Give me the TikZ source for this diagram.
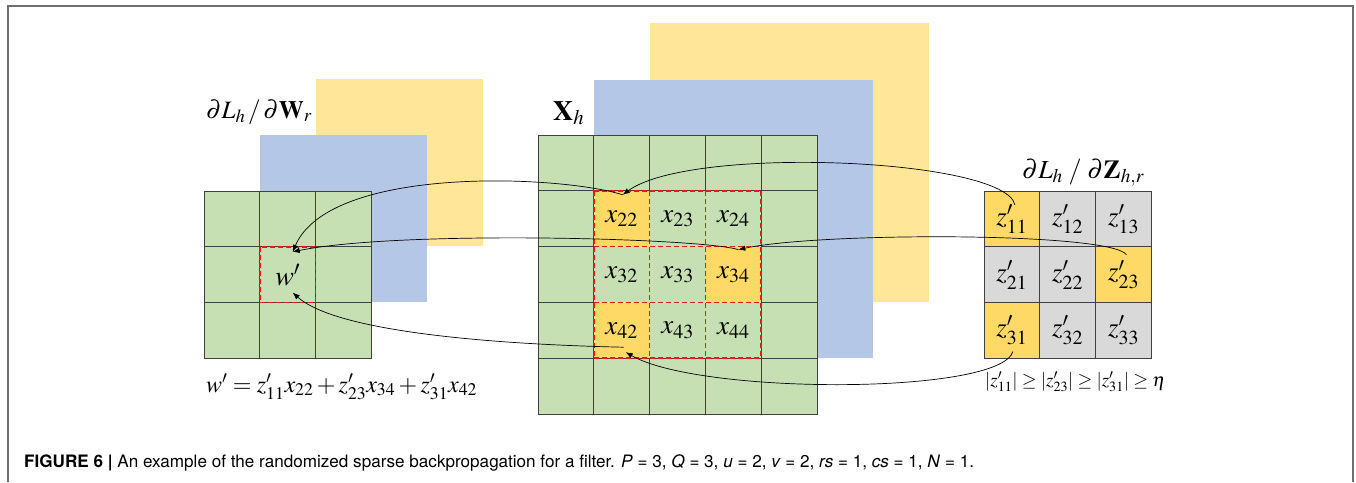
\documentclass[tikz,border=0pt]{standalone}
\usepackage{mathptmx}
\usepackage[no-math]{fontspec}
\setmainfont{Liberation Serif}
\newfontfamily\capfont{TeX Gyre Heros}
\usetikzlibrary{arrows.meta,calc}
\definecolor{cgreen}{RGB}{198,224,180}
\definecolor{cblue}{RGB}{180,199,231}
\definecolor{cyel}{RGB}{255,230,153}
\definecolor{cgold}{RGB}{255,217,102}
\definecolor{cgray}{RGB}{217,217,217}
\definecolor{cline}{RGB}{64,64,64}
\definecolor{cframe}{RGB}{110,110,110}
\definecolor{cred}{RGB}{240,20,20}
\tikzset{
  cell/.style={draw=cline, line width=0.8pt, minimum size=55.8pt, inner sep=0pt, outer sep=0pt, font=\fontsize{27}{27}\selectfont},
  wincell/.style={cell, draw=none},
  reddash/.style={draw=cred, line width=1.7pt, dash pattern=on 5pt off 3pt},
  conn/.style={-{Latex[length=7pt,width=5.5pt]}, line width=0.7pt, black},
  lbl/.style={anchor=base west, inner sep=0pt, font=\fontsize{26}{26}\selectfont},
}
\begin{document}
\begin{tikzpicture}[x=1pt,y=-1pt]
\useasboundingbox (0,0) rectangle (1356,482);
\draw[cframe, line width=1.5pt] (8,482) -- (8,6) -- (1353,6) -- (1353,482);
% back layers left
\fill[cyel] (316,79) rectangle (483,246);
\fill[cblue] (260,135) rectangle (427,302);
% back layers middle
\fill[cyel] (650,23) rectangle (929,302);
\fill[cblue] (594,80) rectangle (873,358);
% left grid
\foreach \i in {1,2,3}{\foreach \j in {1,2,3}{
  \node[cell, fill=cgreen] (w\i\j) at ({204+(\j-0.5)*55.8},{191+(\i-0.5)*55.8}) {};
}}
\node[font=\fontsize{28}{28}\selectfont] (wl) at (w22.center) {$w'$};
% middle grid
\foreach \i in {1,...,5}{\foreach \j in {1,...,5}{
  \pgfmathsetmacro{\inwin}{(\i>1)&&(\i<5)&&(\j>1)&&(\j<5)}
  \ifdim\inwin pt>0.5pt
    \node[wincell, fill=cgreen] (x\i\j) at ({538+(\j-0.5)*55.8},{135+(\i-0.5)*55.8}) {$x_{\i\j}$};
  \else
    \node[cell, fill=cgreen] (x\i\j) at ({538+(\j-0.5)*55.8},{135+(\i-0.5)*55.8}) {};
  \fi
}}
\foreach \c in {22,34,42}{\fill[cgold] (x\c.north west) rectangle (x\c.south east);}
\foreach \c in {22,34,42}{\node[font=\fontsize{27}{27}\selectfont] at (x\c.center) {$x_{\c}$};}
% right grid
\foreach \i in {1,2,3}{\foreach \j in {1,2,3}{
  \node[cell, fill=cgray] (z\i\j) at ({984+(\j-0.5)*55.8},{191+(\i-0.5)*55.8}) {$z'_{\i\j}$};
}}
\foreach \c in {11,23,31}{\node[cell, fill=cgold] at (z\c.center) {$z'_{\c}$};}
% red dashed windows
\draw[reddash] (w22.north west) rectangle (w22.south east);
\draw[reddash] (x22.north west) -- (x42.south west);
\draw[reddash] (x23.north west) -- (x43.south west);
\draw[reddash] (x24.north west) -- (x44.south west);
\draw[reddash] (x24.north east) -- (x44.south east);
\draw[reddash] (x22.north west) -- (x24.north east);
\draw[reddash] (x32.north west) -- (x34.north east);
\draw[reddash] (x42.north west) -- (x44.north east);
\draw[reddash] (x42.south west) -- (x44.south east);
% labels
\node[lbl, font=\fontsize{25}{25}\selectfont] (lw) at (206,118) {$\partial L_h \,/\, \partial \mathbf{W}_r$};
\node[lbl, font=\fontsize{28}{28}\selectfont] (lx) at (553,120) {$\mathbf{X}_h$};
\node[lbl] (lz) at (1022,178) {$\partial L_h \;/\; \partial \mathbf{Z}_{h,r}$};
\node[lbl, font=\fontsize{24}{24}\selectfont] (fw) at (206,392) {$w' = z'_{11}x_{22} + z'_{23}x_{34} + z'_{31}x_{42}$};
\node[lbl, font=\fontsize{19}{19}\selectfont] (fz) at (985,386) {$|z'_{11}| \ge |z'_{23}| \ge |z'_{31}| \ge \eta$};
% connectors
\coordinate (s1) at ($(z11.center)+(3,-14)$);
\coordinate (t1) at ($(x22.north)+(1,4)$);
\coordinate (tw1) at ($(w22.north)+(5,5)$);
\coordinate (s2) at ($(z23.center)+(3,-20)$);
\coordinate (t2) at ($(x34.north)+(5,3)$);
\coordinate (s3) at ($(z31.center)+(1,21)$);
\coordinate (t3) at ($(x42.south)+(4,-6)$);
\coordinate (t3b) at ($(x42.south)+(2,-11)$);
\coordinate (tw3) at ($(w22.south)+(5,-10)$);
\draw[conn] (s1) .. controls (1005,158) and (690,145) .. (t1);
\draw[conn] (t1) .. controls (560,175) and (330,165) .. (tw1);
\draw[conn] (s2) .. controls (1110,232) and (820,232) .. (t2);
\draw[conn] (t2) .. controls (700,238) and (400,230) .. (tw1);
\draw[conn] (s3) .. controls (1000,395) and (700,395) .. (t3);
\draw[conn] (t3b) .. controls (520,345) and (340,335) .. (tw3);
% caption
\node[anchor=base west, inner sep=0pt, font=\capfont\fontsize{17.1}{20}\selectfont] (cap) at (24,467) {\textbf{FIGURE 6 |} An example of the randomized sparse backpropagation for a filter. \textit{P} = 3, \textit{Q} = 3, \textit{u} = 2, \textit{v} = 2, \textit{rs} = 1, \textit{cs} = 1, \textit{N} = 1.};
\end{tikzpicture}
\end{document}
